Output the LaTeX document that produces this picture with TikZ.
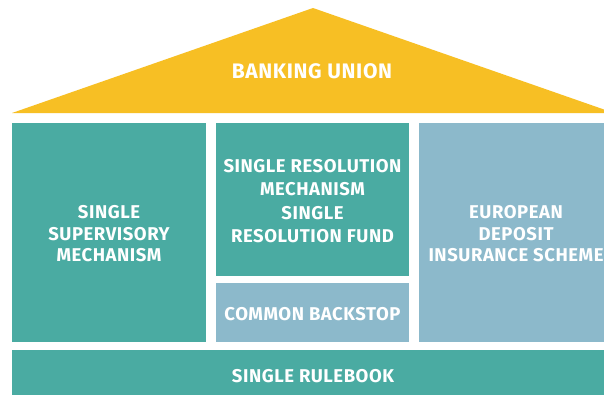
\documentclass[tikz,border=0pt]{standalone}
\usepackage{fontspec}
\setmainfont{Fira Sans}[LetterSpace=3]
\definecolor{byellow}{HTML}{F7BF24}
\definecolor{bteal}{HTML}{4AABA2}
\definecolor{bblue}{HTML}{8CB9CB}
\begin{document}
\begin{tikzpicture}[x=1pt,y=-1pt,
  lbl/.style={text=white,font=\fontsize{18.5}{21.5}\selectfont\bfseries,align=center,inner sep=0pt,yshift=-1.5pt},
  box/.style={inner sep=0pt,draw=none}]
\useasboundingbox (0,0) rectangle (604,394);
\fill[white] (0,0) rectangle (604,394);
\begin{scope}
\clip (0,0) rectangle (604,394);
\fill[byellow] (12,113) -- (313,8) -- (614,113) -- cycle;
\node[box,fill=bteal,minimum width=194pt,minimum height=219pt] (ssm) at (109,232.5) {};
\node[box,fill=bteal,minimum width=193pt,minimum height=153pt] (srm) at (312.5,199.5) {};
\node[box,fill=bblue,minimum width=193pt,minimum height=59pt] (cb) at (312.5,312.5) {};
\node[box,fill=bblue,minimum width=194pt,minimum height=219pt] (edis) at (516,232.5) {};
\node[box,fill=bteal,minimum width=602pt,minimum height=50pt] (rb) at (313,375) {};
\end{scope}
\node[lbl,font=\fontsize{21}{24}\selectfont\bfseries] (bu) at (312,70) {BANKING UNION};
\node[lbl] (ssmt) at (ssm) {SINGLE\\SUPERVISORY\\MECHANISM};
\node[lbl,font=\fontsize{18.5}{23.3}\selectfont\bfseries] (srmt) at (srm) {SINGLE RESOLUTION\\MECHANISM\\SINGLE\\RESOLUTION FUND};
\node[lbl] (cbt) at (cb) {COMMON BACKSTOP};
\node[lbl] (edist) at (edis) {EUROPEAN\\DEPOSIT\\INSURANCE SCHEME};
\node[lbl] (rbt) at (313,375) {SINGLE RULEBOOK};
\end{tikzpicture}
\end{document}
